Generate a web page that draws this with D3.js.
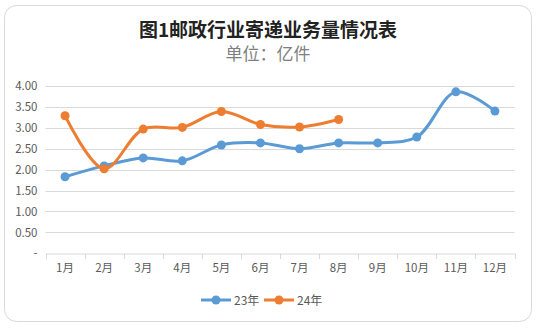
<!DOCTYPE html>
<html><head><meta charset="utf-8">
<script src="https://cdn.jsdelivr.net/npm/d3@7"></script>
<style>body{margin:0;background:#fff}svg{display:block}</style>
</head><body>
<svg id="c" width="537" height="328"></svg>
<script>
const months = ["1月","2月","3月","4月","5月","6月","7月","8月","9月","10月","11月","12月"];
const s23 = [1.83,2.09,2.28,2.21,2.59,2.64,2.50,2.64,2.64,2.78,3.86,3.40];
const s24 = [3.29,2.02,2.97,3.01,3.39,3.08,3.02,3.20];
const yTicks = [0,0.5,1,1.5,2,2.5,3,3.5,4];
const seriesNames = ["23年","24年"];
const colors = ["#5B9BD5","#ED7D31"];

const svg = d3.select("#c");
const font = "'Microsoft YaHei','Noto Sans CJK SC',sans-serif";
svg.append("rect").attr("x",4.5).attr("y",5.5).attr("width",527).attr("height",316)
  .attr("rx",12).attr("fill","#fff").attr("stroke","#d9d9d9").attr("stroke-width",1);

svg.append("text").attr("x",268).attr("y",37).attr("text-anchor","middle")
  .attr("font-family",font).attr("font-weight","bold").attr("font-size",19).attr("fill","#222")
  .text("图1邮政行业寄递业务量情况表");
svg.append("text").attr("x",268).attr("y",60).attr("text-anchor","middle")
  .attr("font-family",font).attr("font-size",17).attr("fill","#7f7f7f")
  .text("单位：亿件");

const x = d3.scaleBand().domain(months).range([45.5,514.5]);
const y = d3.scaleLinear().domain([0,4]).range([253.3,86]);

const g = svg.append("g");
g.selectAll(".grid").data(yTicks.filter(d=>d>0)).join("line")
  .attr("x1",45.5).attr("x2",514.5).attr("y1",d=>Math.round(y(d))+0.5).attr("y2",d=>Math.round(y(d))+0.5)
  .attr("stroke","#d9d9d9").attr("stroke-width",1);

const yAxis = d3.axisLeft(y).tickValues(yTicks).tickSize(0).tickPadding(8)
  .tickFormat(d=>d===0?"-":d3.format(".2f")(d));
const ya = g.append("g").attr("transform","translate(45.5,0)").call(yAxis);
ya.select(".domain").remove();
ya.selectAll("text").attr("font-family",font).attr("font-size",11.5).attr("fill","#595959");

const xAxis = d3.axisBottom(x).tickSize(0).tickPadding(10);
const xa = g.append("g").attr("transform","translate(0,253.5)").call(xAxis);
xa.select(".domain").attr("stroke","#d9d9d9");
xa.selectAll("text").attr("font-family",font).attr("font-size",11.5).attr("fill","#595959");
// tick marks at band boundaries
const bounds = months.map(m=>x(m)).concat([x(months[11])+x.bandwidth()]);
g.selectAll(".xt").data(bounds).join("line")
  .attr("x1",d=>Math.round(d)+0.5).attr("x2",d=>Math.round(d)+0.5).attr("y1",253.5).attr("y2",259)
  .attr("stroke","#d9d9d9");

const cx = (d,i)=>x(months[i])+x.bandwidth()/2;
const line = d3.line().x(cx).y(d=>y(d)).curve(d3.curveCatmullRom.alpha(0.5));
[s23,s24].forEach((s,k)=>{
  g.append("path").attr("d",line(s)).attr("fill","none").attr("stroke",colors[k])
    .attr("stroke-width",3).attr("stroke-linecap","round");
  g.selectAll(".p"+k).data(s).join("circle").attr("cx",cx).attr("cy",d=>y(d)).attr("r",4.5)
    .attr("fill",colors[k]);
});

// legend
const leg = svg.append("g");
const lx = [201,264];
seriesNames.forEach((n,k)=>{
  leg.append("line").attr("x1",lx[k]).attr("x2",lx[k]+30).attr("y1",300).attr("y2",300)
    .attr("stroke",colors[k]).attr("stroke-width",3);
  leg.append("circle").attr("cx",lx[k]+15).attr("cy",300).attr("r",4.5).attr("fill",colors[k]);
  leg.append("text").attr("x",lx[k]+33).attr("y",304.5).attr("font-family",font)
    .attr("font-size",12).attr("fill","#595959").text(n);
});
</script>
</body></html>
